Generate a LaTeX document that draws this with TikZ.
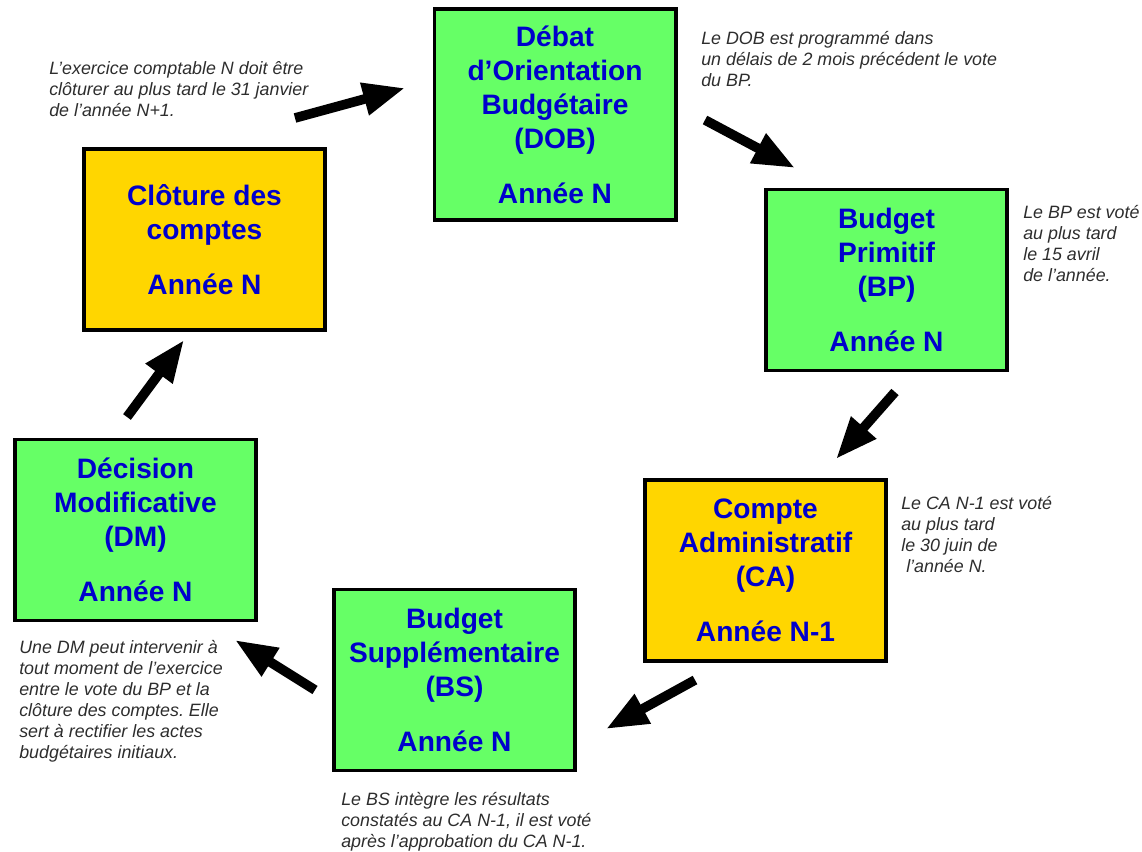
\documentclass[tikz,border=0pt]{standalone}
\usepackage{fontspec}
\setmainfont{Liberation Sans}
\frenchspacing
\usetikzlibrary{arrows.meta}
\definecolor{boxGreen}{RGB}{102, 255, 102}
\definecolor{boxGold}{RGB}{255, 214, 0}
\definecolor{boxBlue}{RGB}{0, 0, 204}
\definecolor{noteGrey}{RGB}{45, 45, 45}
\newcommand{\lCloture}{Clôture des\\comptes\\[15pt]Année N}
\newcommand{\lDOB}{Débat\\d’Orientation\\Budgétaire\\(DOB)\\[15pt]Année N}
\newcommand{\lBP}{Budget\\Primitif\\(BP)\\[15pt]Année N}
\newcommand{\lCA}{Compte\\Administratif\\(CA)\\[15pt]Année N-1}
\newcommand{\lBS}{Budget\\Supplémentaire\\(BS)\\[15pt]Année N}
\newcommand{\lDM}{Décision\\Modificative\\(DM)\\[15pt]Année N}
\newcommand{\nCloture}{L’exercice comptable N doit être\\clôturer au plus tard le 31 janvier\\de l’année N+1.}
\newcommand{\nDOB}{Le DOB est programmé dans\\un délais de 2 mois précédent le vote\\du BP.}
\newcommand{\nBP}{Le BP est voté\\au plus tard\\le 15 avril\\de l’année.}
\newcommand{\nCA}{Le CA N-1 est voté\\au plus tard\\le 30 juin de\\\ l’année N.}
\newcommand{\nDM}{Une DM peut intervenir à\\tout moment de l’exercice\\entre le vote du BP et la\\clôture des comptes. Elle\\sert à rectifier les actes\\budgétaires initiaux.}
\newcommand{\nBS}{Le BS intègre les résultats\\constatés au CA N-1, il est voté\\après l’approbation du CA N-1.}

\begin{document}
\begin{tikzpicture} [
        x=0.025cm, y=-0.025cm,
        box/.style={draw, line width=2.8pt, minimum width=6.025cm, minimum height=4.525cm, inner sep=0pt, align=center, text=boxBlue, font=\bfseries\fontsize{20}{24.2}\selectfont},
        green box/.style={box, fill=boxGreen},
        gold box/.style={box, fill=boxGold},
        note/.style={font=\itshape\fontsize{12.7}{15}\selectfont, text=noteGrey, align=left, anchor=north west, inner sep=0pt},
        flow/.style={line width=0.24cm, -{Triangle[length=1.05cm, width=0.78cm]}}
    ]

    \useasboundingbox (0,0) rectangle (1142,852);

    \node[gold box] (cloture) at (204.5,239.5) {\lCloture};
    \node[green box, minimum height=5.275cm] (dob) at (555,114.5) {\lDOB};
    \node[green box] (bp) at (886.5,280) {\lBP};
    \node[gold box] (ca) at (765.5,570.5) {\lCA};
    \node[green box] (bs) at (454.5,680) {\lBS};
    \node[green box] (dm) at (135.5,530) {\lDM};

    \node[note] (note cloture) at (49,61) {\nCloture};
    \node[note] (note dob) at (701,31) {\nDOB};
    \node[note] (note bp) at (1023,205) {\nBP};
    \node[note] (note ca) at (901,496) {\nCA};
    \node[note] (note dm) at (19,640) {\nDM};
    \node[note] (note bs) at (341,792) {\nBS};

    \coordinate (cloture out) at (295,118);  \coordinate (dob in) at (405,88);
    \coordinate (dob out) at (705,120);      \coordinate (bp in) at (795,168);
    \coordinate (bp out) at (895,392);       \coordinate (ca in) at (836,459);
    \coordinate (ca out) at (695,680);       \coordinate (bs in) at (606,729);
    \coordinate (bs out) at (315,690);       \coordinate (dm in) at (235,640);
    \coordinate (dm out) at (127,417);       \coordinate (cloture in) at (184,340);

    \draw[flow] (cloture out) -- (dob in);
    \draw[flow] (dob out) -- (bp in);
    \draw[flow] (bp out) -- (ca in);
    \draw[flow] (ca out) -- (bs in);
    \draw[flow] (bs out) -- (dm in);
    \draw[flow] (dm out) -- (cloture in);

    \end{tikzpicture}
\end{document}
